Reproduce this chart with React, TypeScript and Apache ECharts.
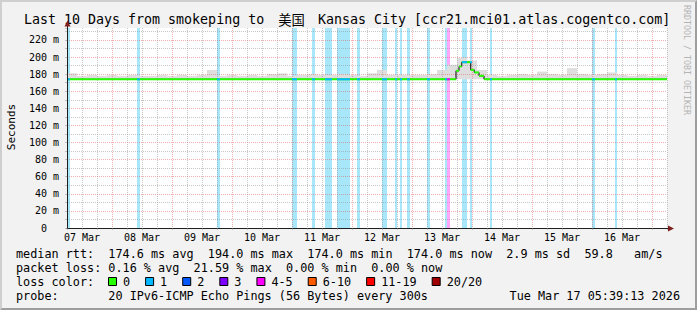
import React, { useEffect, useRef } from "react";
import * as echarts from "echarts";

// ---- data ----
// time axis in hours since 07 Mar 00:00
const T_MIN = 6;
const T_MAX = 246;
const Y_MAX = 234;
const dayLabels = ["07 Mar", "08 Mar", "09 Mar", "10 Mar", "11 Mar", "12 Mar", "13 Mar", "14 Mar", "15 Mar", "16 Mar"];

const lossLegend = ["0", "1", "2", "3", "4-5", "6-10", "11-19", "20/20"];
const lossColors = ["#26ff00", "#00b8ff", "#0059ff", "#7e00ff", "#ff00ff", "#ff5a00", "#ff0000", "#a00000"];
const lossBandColors = ["#c8ffc0", "#a8e6fa", "#a6c4ff", "#d2a6ff", "#ffa6f9", "#ffc6a6", "#ffa6a6", "#e0a6a6"];

// loss periods (hours), loss class index
const lossStart = [6.0, 34.0, 65.9, 95.9, 104.0, 109.2, 113.9, 122.0, 131.9, 137.2, 139.2, 141.9, 149.9, 157.2, 157.9, 163.9, 167.0, 175.2, 215.9, 225.2];
const lossEnd = [7.2, 35.3, 67.2, 97.9, 105.2, 111.9, 119.2, 123.2, 133.9, 137.9, 140.1, 143.2, 151.2, 157.9, 159.2, 166.1, 167.8, 175.9, 217.2, 225.9];
const lossClass = [1, 1, 1, 1, 1, 1, 1, 1, 1, 1, 1, 1, 1, 1, 4, 1, 1, 1, 1, 1];

// median rtt steps (start hour, value in ms)
const medianStart = [6, 161.6, 162.8, 163.9, 167.5, 168.9, 170.8, 172.8];
const medianValue = [174, 184, 189, 194, 185, 182, 178, 174];

// smoke (upper ping spread), 4 hour buckets
const SMOKE_STEP = 4;
const smokeLow = 174;
const smokeHigh = [
  181, 178, 179, 178, 179, 178, 179, 178, 178, 179,
  178, 179, 178, 179, 185, 178, 179, 178, 179, 178,
  180, 181, 178, 179, 180, 179, 179, 180, 179, 178,
  181, 185, 179, 179, 179, 179, 180, 185, 191, 199,
  196, 185, 179, 178, 179, 180, 179, 183, 180, 179,
  187, 180, 179, 180, 182, 179, 178, 179, 178, 179,
];

const titleLeft = "Last 10 Days from smokeping to";
const titleCJK = "美国";
const titleRight = "Kansas City [ccr21.mci01.atlas.cogentco.com]";
const legendLines = [
  "median rtt:  174.6 ms avg  194.0 ms max  174.0 ms min  174.0 ms now  2.9 ms sd  59.8   am/s",
  "packet loss: 0.16 % avg  21.59 % max  0.00 % min  0.00 % now",
];
const lossColorLabel = "loss color:";
const probeLine = "probe:       20 IPv6-ICMP Echo Pings (56 Bytes) every 300s";
const dateText = "Tue Mar 17 05:39:13 2026";

// ---- style ----
const MONO = '"DejaVu Sans Mono", monospace';
const GRID_C = "rgba(143,143,143,0.5)";
const MGRID_C = "rgba(222,79,79,0.45)";
const LEG_FS = 11.8;
const CW = LEG_FS * 0.6021;

function medianAt(t: number): number {
  let v = medianValue[0];
  for (let i = 0; i < medianStart.length; i++) if (t >= medianStart[i]) v = medianValue[i];
  return v;
}

function monoText(str: string, x: number, y: number, fs: number, extra: any = {}): any[] {
  const cw = fs * 0.6021;
  const out: any[] = [];
  const re = /\S+(?: \S+)*/g;
  let m: RegExpExecArray | null;
  while ((m = re.exec(str))) {
    out.push({
      type: "text",
      x: x + m.index * cw,
      y,
      z: 10,
      style: { text: m[0], font: `${fs}px ${MONO}`, fill: "#000", align: "left", verticalAlign: "middle", ...extra },
    });
  }
  return out;
}

export default function App() {
  const ref = useRef<HTMLDivElement>(null);
  useEffect(() => {
    const chart = echarts.init(ref.current!, undefined, { renderer: "svg", width: 697, height: 310 });

    const medianEnd = medianStart.map((s, i) => (i + 1 < medianStart.length ? medianStart[i + 1] : T_MAX));
    const blackStep: any[] = medianStart.map((s, i) => [s, medianValue[i]]);
    blackStep.push([T_MAX, medianValue[medianValue.length - 1]]);

    const graphic: any[] = [];
    // 3d border
    graphic.push({ type: "polygon", z: 10, shape: { points: [[0, 310], [2, 308], [2, 2], [695, 2], [697, 0], [0, 0]] }, style: { fill: "#cfcfcf" } });
    graphic.push({ type: "polygon", z: 10, shape: { points: [[2, 308], [695, 308], [695, 2], [697, 0], [697, 310], [0, 310]] }, style: { fill: "#9e9e9e" } });
    // title
    graphic.push({ type: "text", x: 24, y: 19.5, z: 10, style: { text: titleLeft, font: `13.3px ${MONO}`, fill: "#000", align: "left", verticalAlign: "middle" } });
    graphic.push({ type: "text", x: 291.5, y: 19.5, z: 10, style: { text: titleCJK, font: `13.3px "Noto Sans CJK SC"`, fill: "#000", align: "center", verticalAlign: "middle" } });
    graphic.push({ type: "text", x: 318, y: 19.5, z: 10, style: { text: titleRight, font: `13.3px ${MONO}`, fill: "#000", align: "left", verticalAlign: "middle" } });
    // unit label
    graphic.push({ type: "text", x: 11, y: 127, rotation: Math.PI / 2, z: 10, style: { text: "Seconds", font: `11px ${MONO}`, fill: "#000", align: "center", verticalAlign: "middle" } });
    // watermark
    graphic.push({ type: "text", x: 687, y: 60, rotation: -Math.PI / 2, z: 10, style: { text: "RRDTOOL / TOBI OETIKER", font: `8.3px ${MONO}`, fill: "#b4b4b4", align: "center", verticalAlign: "middle" } });
    // axis extensions + arrows
    graphic.push({ type: "line", z: 10, shape: { x1: 67.5, y1: 228, x2: 67.5, y2: 24 }, style: { stroke: "#1f1f1f", lineWidth: 1 } });
    graphic.push({ type: "line", z: 10, shape: { x1: 667, y1: 228.5, x2: 671, y2: 228.5 }, style: { stroke: "#1f1f1f", lineWidth: 1 } });
    graphic.push({ type: "polygon", z: 11, shape: { points: [[64.5, 26.5], [67.5, 20.5], [70.5, 26.5]] }, style: { fill: "#801f1f" } });
    graphic.push({ type: "polygon", z: 11, shape: { points: [[668, 225.5], [674, 228.5], [668, 231.5]] }, style: { fill: "#801f1f" } });
    // legend
    graphic.push(...monoText(legendLines[0], 16, 254, LEG_FS));
    graphic.push(...monoText(legendLines[1], 16, 268, LEG_FS));
    graphic.push(...monoText(lossColorLabel, 16, 282, LEG_FS));
    let bx = 108;
    lossLegend.forEach((lab, i) => {
      graphic.push({ type: "rect", z: 10, shape: { x: bx + 0.5, y: 277.5, width: 8, height: 8 }, style: { fill: lossColors[i], stroke: "#000", lineWidth: 1 } });
      graphic.push({ type: "text", x: bx + 15, y: 282, z: 10, style: { text: lab, font: `${LEG_FS}px ${MONO}`, fill: "#000", align: "left", verticalAlign: "middle" } });
      bx += 30 + lab.length * CW;
    });
    graphic.push(...monoText(probeLine, 16, 296, LEG_FS));
    graphic.push({ type: "text", x: 680, y: 296, z: 10, style: { text: dateText, font: `${LEG_FS}px ${MONO}`, fill: "#000", align: "right", verticalAlign: "middle" } });

    const option: any = {
      animation: false,
      backgroundColor: "#f2f2f2",
      grid: { left: 67, top: 28, width: 600, height: 200, show: true, backgroundColor: "#ffffff", borderWidth: 0 },
      xAxis: {
        type: "value",
        min: T_MIN,
        max: T_MAX,
        interval: 6,
        z: 3,
        axisLine: { show: true, onZero: false, lineStyle: { color: "#1f1f1f", width: 1 } },
        axisTick: { show: true, length: 2, lineStyle: { color: GRID_C } },
        axisLabel: {
          interval: 0,
          showMinLabel: true,
          showMaxLabel: true,
          margin: 4,
          fontFamily: MONO,
          fontSize: 10,
          color: "#000",
          formatter: (v: number) => (v % 24 === 12 ? dayLabels[(v - 12) / 24] || "" : ""),
        },
        splitLine: { show: true, lineStyle: { color: [GRID_C, GRID_C, GRID_C, MGRID_C], type: [1, 1], width: 1 } },
      },
      yAxis: {
        type: "value",
        min: 0,
        max: Y_MAX,
        interval: 10,
        z: 3,
        axisLine: { show: true, lineStyle: { color: "#1f1f1f", width: 1 } },
        axisTick: { show: true, length: 2, lineStyle: { color: GRID_C } },
        axisLabel: {
          margin: 8,
          fontFamily: MONO,
          fontSize: 10,
          color: "#000",
          formatter: (v: number) => (v % 20 === 0 ? (v === 0 ? "{z|0}" : `${v} m`) : ""),
          rich: { z: { fontFamily: MONO, fontSize: 10, color: "#000", padding: [0, 12, 0, 0] } },
        },
        splitLine: { show: true, showMaxLine: false, lineStyle: { color: [MGRID_C, GRID_C], type: [1, 1], width: 1 } },
      },
      series: [
        {
          type: "custom",
          name: "loss bands",
          z: 1,
          silent: true,
          data: lossStart.map((s, i) => [s, lossEnd[i], lossClass[i]]),
          renderItem: (params: any, api: any) => {
            const a = api.coord([api.value(0), Y_MAX]);
            const b = api.coord([api.value(1), 0]);
            const x0 = Math.round(a[0]);
            const x1 = Math.round(b[0]);
            return { type: "rect", shape: { x: x0, y: a[1], width: Math.max(1, x1 - x0), height: b[1] - a[1] }, style: { fill: lossBandColors[api.value(2)] } };
          },
        },
        {
          type: "custom",
          name: "smoke",
          z: 1,
          silent: true,
          data: smokeHigh.map((h, i) => [T_MIN + i * SMOKE_STEP, T_MIN + (i + 1) * SMOKE_STEP, smokeLow, h]),
          renderItem: (params: any, api: any) => {
            const a = api.coord([api.value(0), api.value(3)]);
            const b = api.coord([api.value(1), api.value(2)]);
            const x0 = Math.round(a[0]);
            const x1 = Math.round(b[0]);
            return { type: "rect", shape: { x: x0, y: a[1], width: x1 - x0, height: b[1] - a[1] }, style: { fill: "#dedede" } };
          },
        },
        {
          type: "line",
          name: "median risers",
          z: 5,
          step: "end",
          symbol: "none",
          silent: true,
          data: blackStep,
          lineStyle: { color: "#000", width: 1 },
        },
        {
          type: "custom",
          name: "median",
          z: 6,
          silent: true,
          data: medianStart.map((s, i) => [s, medianEnd[i], medianValue[i]]),
          renderItem: (params: any, api: any) => {
            const a = api.coord([api.value(0), api.value(2)]);
            const b = api.coord([api.value(1), api.value(2)]);
            return { type: "line", shape: { x1: a[0], y1: a[1], x2: b[0], y2: b[1] }, style: { stroke: lossColors[0], lineWidth: 2 } };
          },
        },
        {
          type: "custom",
          name: "median loss",
          z: 7,
          silent: true,
          data: lossStart.map((s, i) => [s, lossEnd[i], lossClass[i]]),
          renderItem: (params: any, api: any) => {
            const t0 = api.value(0);
            const t1 = api.value(1);
            const v = medianAt((t0 + t1) / 2);
            const a = api.coord([t0, v]);
            const b = api.coord([t1, v]);
            return { type: "line", shape: { x1: Math.round(a[0]), y1: a[1], x2: Math.round(b[0]), y2: b[1] }, style: { stroke: lossColors[api.value(2)], lineWidth: 2 } };
          },
        },
      ],
      graphic,
    };
    chart.setOption(option);
    return () => chart.dispose();
  }, []);
  return <div ref={ref} style={{ position: "fixed", left: 0, top: 0, width: 697, height: 310 }} />;
}
